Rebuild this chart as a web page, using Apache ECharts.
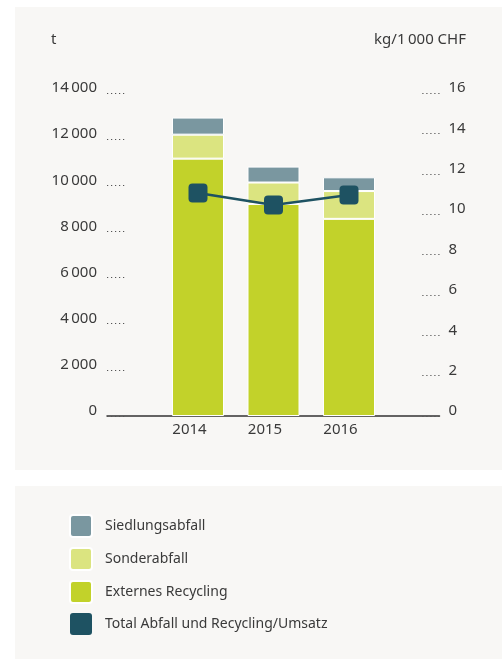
<!DOCTYPE html>
<html>
<head>
<meta charset="utf-8">
<script src="https://cdn.jsdelivr.net/npm/echarts@6/dist/echarts.min.js"></script>
<style>
  html, body { margin: 0; padding: 0; background: #fff; }
  #chart { width: 502px; height: 659px; }
</style>
</head>
<body>
<div id="chart"></div>
<script>
// data
var years = ['2014', '2015', '2016'];
var siedlung = [740, 690, 595];        // t
var sonder = [1040, 930, 1205];        // t
var extern = [11155, 9190, 8545];      // t
var totalPerUmsatz = [11.05, 10.45, 10.95]; // kg/1000 CHF

var font = 'Noto Sans';
var txt = '#3a3a3a';

function thin(v) {
  // thousands with a thin space like "14 000"
  return String(v).replace(/\B(?=(\d{3})+(?!\d))/g, '\u2009');
}

// small rounded squares (legend + markers)
var sq = 'path://M3,0 H19 Q22,0 22,3 V19 Q22,22 19,22 H3 Q0,22 0,19 V3 Q0,0 3,0 Z';
var sqMarker = 'path://M4,0 H15 Q19,0 19,4 V15 Q19,19 15,19 H4 Q0,19 0,15 V4 Q0,0 4,0 Z';

var myChart = echarts.init(document.getElementById('chart'));

var dots = { show: true, inside: true, length: 19, lineStyle: { color: '#555', width: 1.2, type: [1.2, 2.8] } };
var tickLabel = {
  fontFamily: font, fontSize: 15, color: txt,
  verticalAlign: 'bottom', lineHeight: 10
};

var option = {
  animation: false,
  textStyle: { fontFamily: font, color: txt },
  graphic: [
    { type: 'rect', shape: { x: 15, y: 7, width: 487, height: 463 }, style: { fill: '#f8f7f5' }, z: -10 },
    { type: 'rect', shape: { x: 15, y: 486, width: 487, height: 173 }, style: { fill: '#f8f7f5' }, z: -10 }
  ],
  title: [
    { text: 't', left: 46, top: 27, textStyle: { fontFamily: font, fontSize: 15, fontWeight: 'normal', color: txt } },
    { text: 'kg/1\u2009000 CHF', right: 31, top: 27, textStyle: { fontFamily: font, fontSize: 15, fontWeight: 'normal', color: txt } }
  ],
  grid: [
    // frame with the two value axes and the base line
    { left: 107, right: 62.5, top: 93, bottom: 243 },
    // narrower band where the three years sit
    { left: 160.25, right: 115.25, top: 93, bottom: 243 }
  ],
  legend: {
    orient: 'vertical',
    left: 64,
    top: 509,
    icon: sq,
    itemWidth: 22,
    itemHeight: 22,
    itemGap: 9,
    data: ['Siedlungsabfall', 'Sonderabfall', 'Externes Recycling', 'Total Abfall und Recycling/Umsatz'],
    textStyle: { fontFamily: font, fontSize: 14, color: txt, padding: [0, 0, 0, 8] }
  },
  xAxis: [
    {
      type: 'value', gridIndex: 0, min: 0, max: 1,
      splitLine: { show: false },
      axisLine: { show: true, lineStyle: { color: '#333', width: 1.5 } },
      axisTick: { show: false },
      axisLabel: { show: false }
    },
    {
      type: 'category', gridIndex: 1, data: years,
      axisLine: { show: false },
      axisTick: { show: false },
      axisLabel: {
        fontFamily: font, fontSize: 15, color: txt,
        margin: 6,
        padding: [0, 17, 0, 0]
      }
    }
  ],
  yAxis: [
    {
      type: 'value', gridIndex: 0, min: 0, max: 14000, interval: 2000,
      axisLine: { show: false },
      axisTick: dots,
      splitLine: { show: false },
      axisLabel: Object.assign({ margin: 10, formatter: function (v) { return thin(v); } }, tickLabel)
    },
    {
      type: 'value', gridIndex: 0, min: 0, max: 16, interval: 2, position: 'right',
      axisLine: { show: false },
      axisTick: dots,
      splitLine: { show: false },
      axisLabel: Object.assign({ margin: 9 }, tickLabel)
    },
    { type: 'value', gridIndex: 1, min: 0, max: 14000, show: false },
    { type: 'value', gridIndex: 1, min: 0, max: 16, show: false }
  ],
  series: [
    {
      name: 'Externes Recycling', type: 'bar', stack: 't', barWidth: 52,
      xAxisIndex: 1, yAxisIndex: 2,
      itemStyle: { color: '#c2d22a', borderColor: '#ffffff', borderWidth: 1 },
      data: extern
    },
    {
      name: 'Sonderabfall', type: 'bar', stack: 't', barWidth: 52,
      xAxisIndex: 1, yAxisIndex: 2,
      itemStyle: { color: '#dbe480', borderColor: '#ffffff', borderWidth: 1 },
      data: sonder
    },
    {
      name: 'Siedlungsabfall', type: 'bar', stack: 't', barWidth: 52,
      xAxisIndex: 1, yAxisIndex: 2,
      itemStyle: { color: '#7a97a0', borderColor: '#ffffff', borderWidth: 1 },
      data: siedlung
    },
    {
      name: 'Total Abfall und Recycling/Umsatz', type: 'line',
      xAxisIndex: 1, yAxisIndex: 3,
      symbol: sqMarker, symbolSize: 19, z: 5,
      itemStyle: { color: '#1e5262' },
      lineStyle: { color: '#1e5262', width: 2.5 },
      data: totalPerUmsatz
    }
  ]
};

myChart.setOption(option);
</script>
</body>
</html>
